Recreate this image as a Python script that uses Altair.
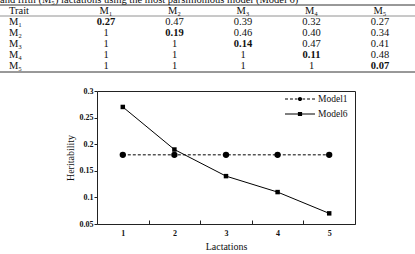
import altair as alt
import pandas as pd

# ---------------- data ----------------
caption = "and fifth (M\u2085) lactations using the most parsimonious model (Model 6)"
traits = ["M\u2081", "M\u2082", "M\u2083", "M\u2084", "M\u2085"]
table_rows = [
    ["0.27", "0.47", "0.39", "0.32", "0.27"],
    ["1", "0.19", "0.46", "0.40", "0.34"],
    ["1", "1", "0.14", "0.47", "0.41"],
    ["1", "1", "1", "0.11", "0.48"],
    ["1", "1", "1", "1", "0.07"],
]
lactations = [1, 2, 3, 4, 5]
model1 = [0.18, 0.18, 0.18, 0.18, 0.18]
model6 = [0.27, 0.19, 0.14, 0.11, 0.07]
models = ["Model1", "Model6"]
y_ticks = [0.05, 0.1, 0.15, 0.2, 0.25, 0.3]

FONT = "Liberation Serif"
row_domain = ["Trait"] + traits

# plot area placement inside the 415x254 page
PL, PT, PW, PH = 97, 91, 258, 133

# ---------------- table (drawn above the plot area) ----------------
cells = []
for r, t in enumerate(traits):
    for c, col in enumerate(traits):
        cells.append({"row": t, "col": col, "val": table_rows[r][c], "bold": r == c})
cells_df = pd.DataFrame(cells)
header_df = pd.DataFrame({"row": ["Trait"] * 5, "col": traits, "val": traits})
labels_df = pd.DataFrame({"row": row_domain, "val": row_domain})

xcol = alt.X("col:N", scale=alt.Scale(type="point", padding=0, domain=traits,
                                      range=[106 - PL, 380 - PL]), axis=None)
yrow = alt.Y("row:N", scale=alt.Scale(type="point", padding=0, domain=row_domain,
                                      range=[10.5 - PT, 66 - PT]), axis=None)

txt = dict(font=FONT, fontSize=10.5, color="#111")

one = pd.DataFrame({"k": [0]})
cap = alt.Chart(pd.DataFrame({"t": [caption]})).mark_text(
    align="left", baseline="alphabetic", **txt
).encode(x=alt.value(-PL), y=alt.value(2.5 - PT), text="t:N")

def hrule(ypix, color, width):
    return alt.Chart(one).mark_rule(color=color, strokeWidth=width).encode(
        x=alt.value(-PL), x2=alt.value(415 - PL), y=alt.value(ypix - PT))

rule_top = hrule(5, "#333", 1)
rule_mid = hrule(16, "#777", 0.8)
rule_bot = hrule(72, "#333", 1)

row_labels = alt.Chart(labels_df).mark_text(align="left", baseline="middle", **txt).encode(
    x=alt.value(9 - PL), y=yrow, text="val:N"
)
headers = alt.Chart(header_df).mark_text(align="center", baseline="middle", **txt).encode(
    x=xcol, y=yrow, text="val:N"
)
cells_plain = alt.Chart(cells_df).transform_filter("!datum.bold").mark_text(
    align="center", baseline="middle", **txt
).encode(x=xcol, y=yrow, text="val:N")
cells_bold = alt.Chart(cells_df).transform_filter("datum.bold").mark_text(
    align="center", baseline="middle", fontWeight="bold", **txt
).encode(x=xcol, y=yrow, text="val:N")

table = alt.layer(cap, rule_top, rule_mid, rule_bot, row_labels, headers, cells_plain, cells_bold)

# ---------------- line chart ----------------
rows = []
for i, lac in enumerate(lactations):
    rows.append({"Lactation": lac, "Model": "Model1", "h": model1[i]})
    rows.append({"Lactation": lac, "Model": "Model6", "h": model6[i]})
df = pd.DataFrame(rows)

xs = alt.Scale(type="band", paddingInner=0, paddingOuter=0)
ys = alt.Scale(domain=[0.05, 0.3], zero=False, nice=False)
x_enc = alt.X(
    "Lactation:O", scale=xs,
    axis=alt.Axis(
        orient="bottom", title="Lactations", labelAngle=0, tickBand="extent", domain=False, offset=-4,
        tickSize=4, tickColor="#222", labelPadding=5, labelFont=FONT, labelFontSize=8,
        labelFontWeight="bold", labelColor="#111", titleFont=FONT, titleFontSize=10,
        titleFontWeight="normal", titleColor="#111", titlePadding=4,
    ),
)
y_enc = alt.Y(
    "h:Q", scale=ys,
    axis=alt.Axis(
        orient="left", title="Heritability", values=y_ticks, format="~g", grid=False, domain=False,
        tickSize=3, tickColor="#222", labelPadding=1, labelFont=FONT, labelFontSize=8,
        labelFontWeight="bold", labelColor="#111", titleFont=FONT, titleFontSize=10,
        titleFontWeight="normal", titleColor="#111", titlePadding=4,
    ),
)

base = alt.Chart(df)
line1 = base.transform_filter("datum.Model == 'Model1'").mark_line(
    color="black", strokeWidth=1, strokeDash=[3, 2]
).encode(x=x_enc, y=y_enc)
line6 = base.transform_filter("datum.Model == 'Model6'").mark_line(
    color="black", strokeWidth=1
).encode(x=x_enc, y=y_enc)
pts1 = base.transform_filter("datum.Model == 'Model1'").mark_point(
    shape="circle", filled=True, color="black", size=40, opacity=1
).encode(x=x_enc, y=y_enc)
pts6 = base.transform_filter("datum.Model == 'Model6'").mark_point(
    shape="square", filled=True, color="black", size=20, opacity=1
).encode(x=x_enc, y=y_enc)

# legend symbols: a (dashed / solid) line with the marker, drawn as filled shapes
sym1 = ("M-1,-0.035H-0.8V0.035H-1Z"
        "M-0.67,-0.035H-0.47V0.035H-0.67Z"
        "M-0.34,-0.035H-0.17V0.035H-0.34Z"
        "M0.17,-0.035H0.34V0.035H0.17Z"
        "M0.47,-0.035H0.67V0.035H0.47Z"
        "M0.8,-0.035H1V0.035H0.8Z"
        "M-0.14,0A0.14,0.14,0,1,1,0.14,0A0.14,0.14,0,1,1,-0.14,0Z")
sym6 = "M-1,-0.035H1V0.035H-1ZM-0.14,-0.14H0.14V0.14H-0.14Z"

legend_layer = base.mark_point(
    filled=True, fill="black", color="black", strokeWidth=0, size=0
).encode(
    x=x_enc, y=y_enc,
    shape=alt.Shape(
        "Model:N", scale=alt.Scale(domain=models, range=[sym1, sym6]),
        legend=alt.Legend(
            title=None, orient="none", legendX=188, legendY=2, direction="vertical",
            symbolSize=900, clipHeight=12, rowPadding=3, labelOffset=3, padding=0,
            labelFont=FONT, labelFontSize=9.5, labelColor="#111",
            symbolFillColor="black", symbolStrokeWidth=0, symbolOpacity=1,
        ),
    ),
)

plot = alt.layer(line1, line6, pts1, pts6, legend_layer)

chart = alt.layer(plot, table).resolve_scale(x="independent", y="independent").properties(
    width=PW, height=PH, background="white",
    padding={"left": PL, "top": PT, "right": 415 - PL - PW, "bottom": 254 - PT - PH},
    autosize=alt.AutoSizeParams(type="none"),
    view=alt.ViewBackground(stroke="#222", strokeWidth=1),
)
chart.save("out.html", embed_options={"renderer": "svg", "actions": False})
